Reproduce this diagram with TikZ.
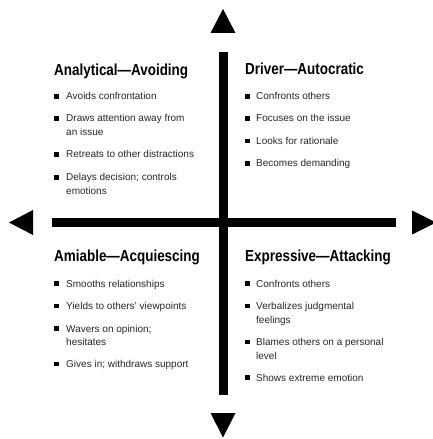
\documentclass[tikz,border=0pt]{standalone}
\usepackage{fontspec}
\usepackage{graphicx}
\setmainfont{Liberation Sans}[BoldFont={Liberation Sans Bold}]
\newcommand\hdtext[1]{\scalebox{0.84}[1]{#1}}
\tikzset{
  head/.style={anchor=base west, inner sep=0pt, font=\fontsize{16bp}{18bp}\selectfont\bfseries},
  body/.style={anchor=base west, inner sep=0pt, text=black!85, font=\fontsize{10bp}{12bp}\selectfont},
  sq/.style={fill=black, inner sep=0pt, minimum width=5bp, minimum height=4.5bp},
  axisbar/.style={fill=black, inner sep=0pt},
  tip/.style={fill=black},
}
\begin{document}
\begin{tikzpicture}[x=1bp,y=-1bp]
\useasboundingbox (0,0) rectangle (433,439);
\clip (0,0) rectangle (433,439);
% axes
\node[axisbar, minimum width=9bp, minimum height=343bp] (vbar) at (223,223.5) {};
\node[axisbar, minimum width=344bp, minimum height=9bp] (hbar) at (224,222.5) {};
\coordinate (up) at (223,9);
\coordinate (down) at (223,437.5);
\coordinate (left) at (9,222.5);
\coordinate (right) at (436,222.5);
\fill[tip] (up) -- ++(-12.5,24) -- ++(25,0) -- cycle;
\fill[tip] (down) -- ++(-12.5,-24.5) -- ++(25,0) -- cycle;
\fill[tip] (left) -- ++(24,-12.5) -- ++(0,25) -- cycle;
\fill[tip] (right) -- ++(-24,-12) -- ++(0,24) -- cycle;

% top left
\node[head] (tlh) at (54,75.5) {\hdtext{Analytical—Avoiding}};
\node[sq] (tlb1) at (56.5,96.5) {};
\node[body] (tl1) at (66,100) {Avoids confrontation};
\node[sq] (tlb2) at (56.5,118.5) {};
\node[body] (tl2) at (66,122) {Draws attention away from};
\node[body] (tl2b) at (66,135.5) {an issue};
\node[sq] (tlb3) at (56.5,154.5) {};
\node[body] (tl3) at (66,158) {Retreats to other distractions};
\node[sq] (tlb4) at (56.5,177.5) {};
\node[body] (tl4) at (66,181) {Delays decision; controls};
\node[body] (tl4b) at (66,194.5) {emotions};

% top right
\node[head] (trh) at (245,75) {\hdtext{Driver—Autocratic}};
\node[sq] (trb1) at (247.5,96.5) {};
\node[body] (tr1) at (256,100) {Confronts others};
\node[sq] (trb2) at (247.5,118.5) {};
\node[body] (tr2) at (256,122) {Focuses on the issue};
\node[sq] (trb3) at (247.5,141) {};
\node[body] (tr3) at (256,144.5) {Looks for rationale};
\node[sq] (trb4) at (247.5,163.5) {};
\node[body] (tr4) at (256,167) {Becomes demanding};

% bottom left
\node[head] (blh) at (54,261) {\hdtext{Amiable—Acquiescing}};
\node[sq] (blb1) at (56.5,283.5) {};
\node[body] (bl1) at (66,287) {Smooths relationships};
\node[sq] (blb2) at (56.5,306) {};
\node[body] (bl2) at (66,309.5) {Yields to others’ viewpoints};
\node[sq] (blb3) at (56.5,328.5) {};
\node[body] (bl3) at (66,332) {Wavers on opinion;};
\node[body] (bl3b) at (66,345.5) {hesitates};
\node[sq] (blb4) at (56.5,364) {};
\node[body] (bl4) at (66,367.5) {Gives in; withdraws support};

% bottom right
\node[head] (brh) at (245,261) {\hdtext{Expressive—Attacking}};
\node[sq] (brb1) at (247.5,283.5) {};
\node[body] (br1) at (256,287) {Confronts others};
\node[sq] (brb2) at (247.5,306) {};
\node[body] (br2) at (256,309.5) {Verbalizes judgmental};
\node[body] (br2b) at (256,323) {feelings};
\node[sq] (brb3) at (247.5,342) {};
\node[body] (br3) at (256,345.5) {Blames others on a personal};
\node[body] (br3b) at (256,359) {level};
\node[sq] (brb4) at (247.5,377.5) {};
\node[body] (br4) at (256,381) {Shows extreme emotion};
\end{tikzpicture}
\end{document}
